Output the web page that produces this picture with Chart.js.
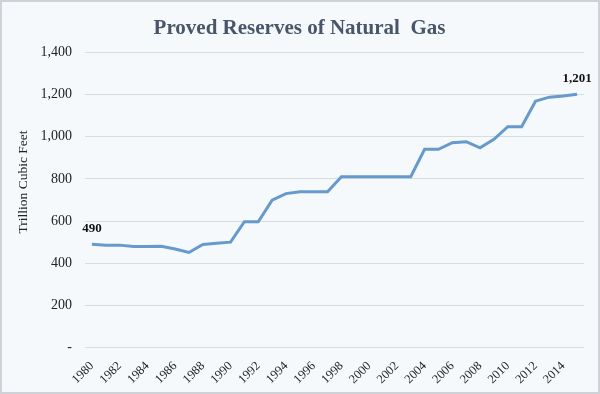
<!DOCTYPE html>
<html>
<head>
<meta charset="utf-8">
<script src="https://cdn.jsdelivr.net/npm/chart.js@4"></script>
<style>
  html, body { margin: 0; padding: 0; background: #fff; }
  #wrap { width: 600px; height: 394px; }
</style>
</head>
<body>
<div id="wrap"><canvas id="gasChart" width="600" height="394"></canvas></div>
<script>
const years = ['1980', '1981', '1982', '1983', '1984', '1985', '1986', '1987', '1988', '1989',
    '1990', '1991', '1992', '1993', '1994', '1995', '1996', '1997', '1998', '1999',
    '2000', '2001', '2002', '2003', '2004', '2005', '2006', '2007', '2008', '2009',
    '2010', '2011', '2012', '2013', '2014', '2015'];
const reserves = [490, 486, 486, 480, 480, 481, 468, 451, 489, 495,
    500, 597, 597, 699, 730, 739, 739, 739, 810, 810,
    810, 810, 810, 810, 940, 940, 971, 976, 947, 987,
    1047, 1047, 1168, 1187, 1192, 1201];
const yTicks = [0, 200, 400, 600, 800, 1000, 1200, 1400];
const yTitle = 'Trillion Cubic Feet';

const serif = '"Liberation Serif", "Times New Roman", serif';

// background + frame
const framePlugin = {
    id: 'frame',
    beforeDraw(chart) {
        const c = chart.ctx;
        c.save();
        c.fillStyle = '#f6f9fc';
        c.fillRect(0, 0, chart.width, chart.height);
        c.strokeStyle = '#cfd3d7';
        c.lineWidth = 2;
        c.strokeRect(1, 1, chart.width - 2, chart.height - 2);
        c.restore();
    }
};

// y axis title sits a bit above the middle of the plot, like the original
const axisTitle = {
    id: 'axisTitle',
    afterDraw(chart) {
        const c = chart.ctx;
        const a = chart.chartArea;
        c.save();
        c.translate(23, (a.top + a.bottom) / 2 - 18);
        c.rotate(-Math.PI / 2);
        c.font = '13.5px ' + serif;
        c.fillStyle = '#222';
        c.textAlign = 'center';
        c.textBaseline = 'middle';
        c.fillText(yTitle, 0, 0);
        c.restore();
    }
};

// value labels on first and last point
const endLabels = {
    id: 'endLabels',
    afterDatasetsDraw(chart) {
        const c = chart.ctx;
        const pts = chart.getDatasetMeta(0).data;
        c.save();
        c.font = 'bold 13px ' + serif;
        c.fillStyle = '#111';
        c.textAlign = 'center';
        c.textBaseline = 'bottom';
        [0, pts.length - 1].forEach(i => {
            c.fillText(reserves[i].toLocaleString('en-US'), pts[i].x, pts[i].y - 9);
        });
        c.restore();
    }
};

const ctx = document.getElementById('gasChart').getContext('2d');

const gasChart = new Chart(ctx, {
    type: 'line',
    data: {
        labels: years,
        datasets: [{
            label: 'Proved Reserves',
            data: reserves,
            borderColor: '#6699cc',
            borderWidth: 3,
            pointRadius: 0,
            tension: 0,
            fill: false
        }]
    },
    options: {
        responsive: false,
        animation: false,
        layout: { padding: { left: 15, right: 16, top: 4, bottom: 4 } },
        plugins: {
            legend: { display: false },
            tooltip: { enabled: false },
            title: {
                display: true,
                text: 'Proved Reserves of Natural  Gas',
                color: '#48556a',
                font: { family: serif, size: 21, weight: 'bold' },
                padding: { top: 12, bottom: 11 }
            }
        },
        scales: {
            x: {
                offset: true,
                grid: { display: false },
                border: { display: false },
                afterFit(axis) { axis.paddingLeft = 0; axis.paddingRight = 0; },
                ticks: {
                    autoSkip: false,
                    maxRotation: 45,
                    minRotation: 45,
                    color: '#222',
                    font: { family: serif, size: 12.5 },
                    callback: function (v, i) { return i % 2 === 0 ? years[i] : ''; }
                }
            },
            y: {
                min: 0,
                max: 1400,
                afterBuildTicks(axis) { axis.ticks = yTicks.map(v => ({ value: v })); },
                afterFit(axis) { axis.width = 70; },
                grid: { color: '#d9dcdf', lineWidth: 1, drawTicks: false },
                border: { display: false },
                ticks: {
                    padding: 13,
                    color: '#222',
                    font: { family: serif, size: 14 },
                    callback: v => v === 0 ? '-' : v.toLocaleString('en-US')
                }
            }
        }
    },
    plugins: [framePlugin, axisTitle, endLabels]
});
</script>
</body>
</html>
